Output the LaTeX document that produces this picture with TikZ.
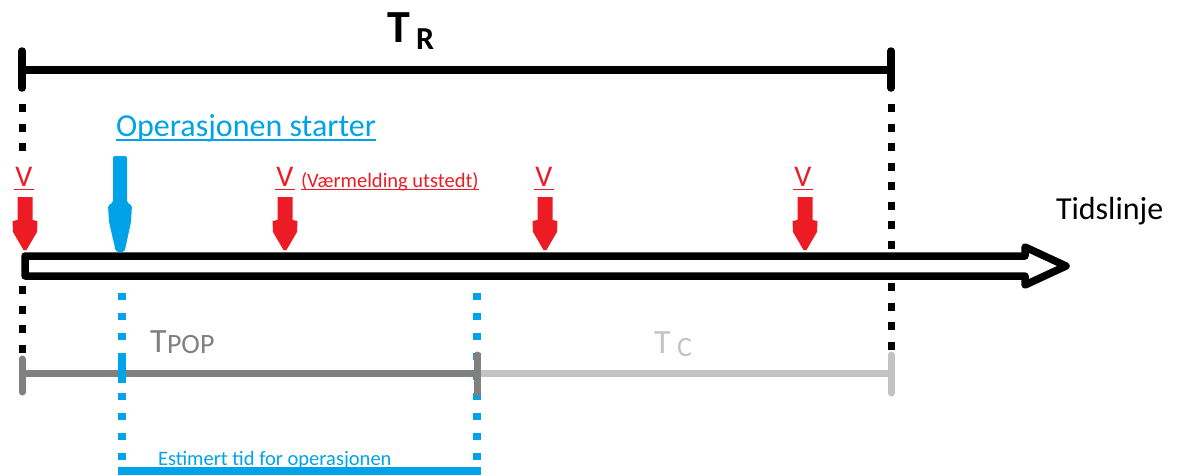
\documentclass[tikz,border=0pt]{standalone}
\usepackage{fontspec}
\setmainfont{Carlito}
\definecolor{warnred}{RGB}{237,28,36}
\definecolor{opblue}{RGB}{0,162,232}
\definecolor{popgray}{RGB}{128,128,128}
\definecolor{cgray}{RGB}{195,195,195}
\tikzset{
  lbl/.style={inner sep=0pt, outer sep=0pt, anchor=base west},
  vlbl/.style={inner sep=0pt, outer sep=0pt, anchor=base, text=warnred,
    font=\fontsize{30}{30}\selectfont},
  spanbar/.style={line width=7.5pt, line cap=round},
  dashseg/.style={line width=7pt},
  bluedots/.style={opblue, line width=7.5pt, dash pattern=on 7pt off 13pt},
  vmark/.pic={\fill[warnred] (-7.5,-53) -- (-7.5,-30) -- (-12.5,-29) -- (-12,-18)
      -- (-1.5,0) -- (1.5,0) -- (12,-18) -- (12.5,-29) -- (7.5,-30) -- (7.5,-53) -- cycle;},
}
% vertical dashed guide: x, first dash top, number of dashes (period 19.5, dash 8)
\newcommand{\guidedashes}[3]{%
  \foreach \k in {1,...,#3} {
    \pgfmathsetmacro{\ya}{#2+19.5*(\k-1)}
    \pgfmathsetmacro{\yb}{\ya+8}
    \draw[dashseg] (#1,\ya) -- (#1,\yb);
  }}
\begin{document}
\begin{tikzpicture}[x=1pt,y=-1pt]
\useasboundingbox (0,0) rectangle (1178,475);

% ---- total span T_R ----
\coordinate (rl) at (22,70);
\coordinate (rr) at (891,70);
\draw[spanbar] (rl) -- (rr);
\draw[spanbar] ([yshift=19pt]rl) -- ([yshift=-18pt]rl);
\draw[spanbar] ([yshift=19pt]rr) -- ([yshift=-18pt]rr);
\node[lbl, font=\fontsize{46}{46}\selectfont\bfseries] (tr) at (387,42) {T};
\node[lbl, font=\fontsize{32}{32}\selectfont\bfseries] (trsub) at (416,49) {R};

% ---- black guide lines at both ends of T_R ----
\guidedashes{22}{104}{3}
\guidedashes{22}{286}{4}
\guidedashes{891}{104}{8}
\guidedashes{891}{283}{4}

% ---- estimated operation window (blue) ----
\coordinate (b1) at (122,293); \coordinate (b2) at (122,471);
\coordinate (b3) at (477,293); \coordinate (b4) at (477,471);
\draw[bluedots] (b1) -- (b2);
\draw[bluedots] (b3) -- (b4);
\draw[opblue, line width=8pt] ([xshift=-4pt]b2) -- ([xshift=4pt]b4);
\node[lbl, text=opblue, font=\fontsize{20.5}{20.5}\selectfont] (est) at (158,465)
  {Estimert tid for operasjonen};
\draw[opblue, line width=1pt] ([yshift=-2pt]est.base west) -- ([yshift=-2pt]est.base east);

% ---- T_POP and T_C spans ----
\coordinate (p1) at (22,373); \coordinate (p2) at (477,373); \coordinate (p3) at (891,373);
\draw[cgray, line width=7pt] (p2) -- (p3);
\draw[cgray, spanbar, line width=7pt] ([yshift=18pt]p3) -- ([yshift=-20pt]p3);
\draw[popgray, line width=7pt] (p1) -- (p2);
\draw[popgray, spanbar, line width=7pt] ([yshift=14pt]p1) -- ([yshift=-19pt]p1);
\draw[popgray, spanbar, line width=7pt] ([yshift=18pt]p2) -- ([yshift=-20pt]p2);
\coordinate (bt1) at (122,358); \coordinate (bt2) at (122,383);
\draw[opblue, line width=7.5pt] (bt1) -- (bt2);
\node[lbl, text=popgray, font=\fontsize{34}{34}\selectfont] (tp) at (150,352) {T};
\node[lbl, text=popgray, font=\fontsize{28}{28}\selectfont] (tpsub) at (167,353) {POP};
\node[lbl, text=cgray, font=\fontsize{34}{34}\selectfont] (tc) at (654,353) {T};
\node[lbl, text=cgray, font=\fontsize{28}{28}\selectfont] (tcsub) at (677,356) {C};

% ---- timeline arrow ----
\coordinate (t0) at (25,256);
\coordinate (tip) at (1066,266);
\draw[line width=7.5pt, line join=round]
  (t0) -- (1025,256) -- (1025,247) -- (tip) -- (1025,285) -- (1025,276) -- (25,276) -- cycle;
\node[lbl, font=\fontsize{32}{32}\selectfont] (tl) at (1056,219) {Tidslinje};

% ---- weather warnings ----
\pic at (25,250) {vmark};
\pic at (285,250) {vmark};
\pic at (545,250) {vmark};
\pic at (805,250) {vmark};
\node[vlbl] (v1) at (24,186) {V};
\node[vlbl] (v2) at (285,186) {V};
\node[vlbl] (v3) at (544,186) {V};
\node[vlbl] (v4) at (803,186) {V};
\foreach \v in {v1,v2,v3,v4}
  \draw[warnred, line width=1.4pt] ([yshift=-3.5pt,xshift=-1pt]\v.base west) -- ([yshift=-3.5pt,xshift=1pt]\v.base east);
\node[lbl, text=warnred, font=\fontsize{20.5}{20.5}\selectfont] (vm) at (301,187)
  {(Værmelding utstedt)};
\draw[warnred, line width=1pt] ([yshift=-2pt]vm.base west) -- ([yshift=-2pt]vm.base east);

% ---- operation start ----
\fill[opblue, rounded corners=2pt] (113,156) -- (127,156) -- (127,203) -- (132,205)
  -- (131,222) -- (124.5,252) -- (116,252) -- (109,222) -- (108,205) -- (113,203) -- cycle;
\node[lbl, text=opblue, font=\fontsize{32}{32}\selectfont] (op) at (116,136) {Operasjonen starter};
\draw[opblue, line width=1.5pt] ([yshift=-4pt]op.base west) -- ([yshift=-4pt]op.base east);
\end{tikzpicture}
\end{document}
